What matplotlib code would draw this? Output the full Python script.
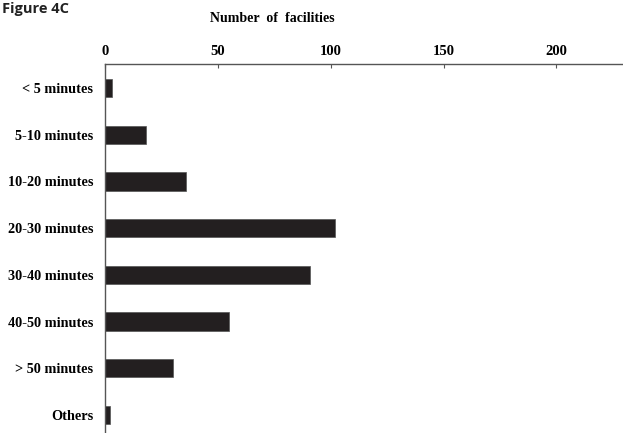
import matplotlib.pyplot as plt

categories = ['< 5 minutes', '5-10 minutes', '10-20 minutes', '20-30 minutes',
              '30-40 minutes', '40-50 minutes', '> 50 minutes', 'Others']
facilities = [3, 18, 36, 102, 91, 55, 30, 2]
x_ticks = [0, 50, 100, 150, 200]

serif = 'Liberation Serif'

fig = plt.figure(figsize=(6.23, 4.33), dpi=100)
ax = fig.add_axes([105 / 623, 0.0, 1 - 105 / 623, 1 - 64 / 433])

pos = list(range(len(categories)))
ax.barh(pos, facilities, height=0.39, color='#231f20', edgecolor='#555555', linewidth=0.5)

ax.set_xlim(0, 229.5)
ax.set_ylim(len(categories) - 1 + 0.385, -0.514)

ax.xaxis.tick_top()
ax.set_xticks(x_ticks)
ax.set_xticklabels([str(t) for t in x_ticks], fontfamily=serif, fontweight='bold', fontsize=10.5)
ax.tick_params(axis='x', direction='in', length=3, width=0.8, pad=4, color='#555555')

ax.set_yticks(pos)
ax.set_yticklabels(categories, fontfamily=serif, fontweight='bold', fontsize=10.3)
ax.tick_params(axis='y', length=0, pad=8.5)

for side in ['right', 'bottom']:
    ax.spines[side].set_visible(False)
for side in ['top', 'left']:
    ax.spines[side].set_color('#555555')
    ax.spines[side].set_linewidth(1.0)

fig.text(272 / 623, 1 - 18 / 433, 'Number  of  facilities', ha='center', va='center',
         fontfamily=serif, fontweight='bold', fontsize=10)
fig.text(2 / 623, 1 - 2 / 433, 'Figure 4C', ha='left', va='top',
         fontfamily='Open Sans', fontweight='bold', fontsize=10.5, color='#222222')

fig.savefig('out.png', dpi=100)
